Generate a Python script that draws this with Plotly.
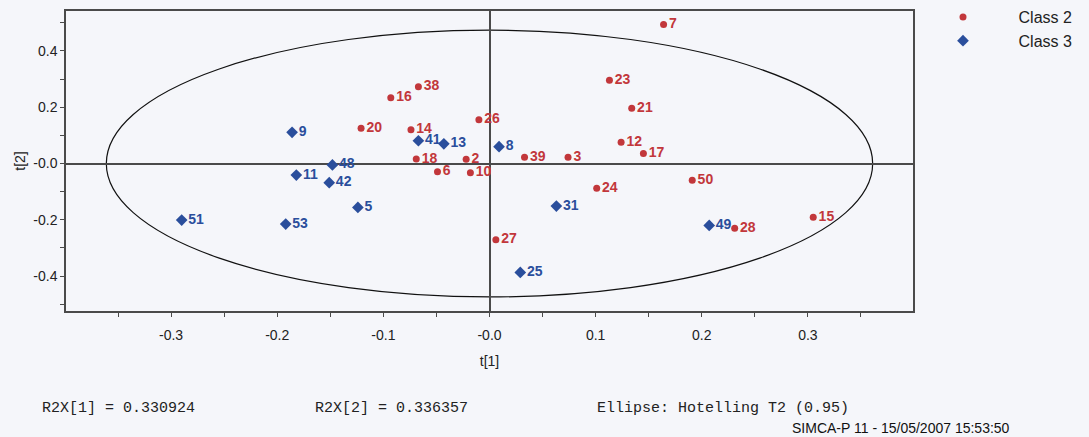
import plotly.graph_objects as go

# ---- data ----
class2_ids = ["7", "23", "38", "16", "21", "26", "20", "14", "12", "17", "18", "2",
              "39", "3", "6", "10", "24", "27", "50", "28", "15"]
class2_t1 = [0.164, 0.113, -0.067, -0.093, 0.134, -0.010, -0.121, -0.074, 0.124, 0.145,
             -0.069, -0.022, 0.033, 0.074, -0.049, -0.018, 0.101, 0.006, 0.191, 0.231, 0.305]
class2_t2 = [0.494, 0.296, 0.273, 0.234, 0.196, 0.156, 0.125, 0.120, 0.076, 0.036,
             0.016, 0.015, 0.022, 0.022, -0.029, -0.033, -0.088, -0.271, -0.059, -0.230, -0.191]

class3_ids = ["9", "48", "11", "42", "51", "53", "5", "41", "13", "8", "31", "25", "49"]
class3_t1 = [-0.186, -0.148, -0.182, -0.151, -0.290, -0.192, -0.124, -0.067, -0.043,
             0.009, 0.063, 0.029, 0.207]
class3_t2 = [0.111, -0.005, -0.041, -0.068, -0.201, -0.215, -0.156, 0.081, 0.070,
             0.060, -0.151, -0.387, -0.220]

# Hotelling T2 (0.95) ellipse semi-axes
ellipse_t1 = 0.361
ellipse_t2 = 0.474

x_tick_vals = [-0.3, -0.2, -0.1, 0.0, 0.1, 0.2, 0.3]
x_tick_text = ["-0.3", "-0.2", "-0.1", "-0.0", "0.1", "0.2", "0.3"]
y_tick_vals = [0.4, 0.2, 0.0, -0.2, -0.4]
y_tick_text = ["0.4", "0.2", "-0.0", "-0.2", "-0.4"]

footer_texts = ["R2X[1] = 0.330924", "R2X[2] = 0.336357", "Ellipse: Hotelling T2 (0.95)"]
footer_stamp = "SIMCA-P 11 - 15/05/2007 15:53:50"

RED = "#c2373b"
BLUE = "#2a4e9c"
BG = "#f5f6fa"
NB = "\u00a0"

fig = go.Figure()
fig.add_trace(go.Scatter(
    x=class2_t1, y=class2_t2, mode="markers+text", text=class2_ids,
    textposition="middle right",
    textfont=dict(family="Arial, Liberation Sans", size=14, color=RED, weight="bold"),
    marker=dict(symbol="circle", size=7, color=RED),
    name=NB * 8 + "Class 2",
))
fig.add_trace(go.Scatter(
    x=class3_t1, y=class3_t2, mode="markers+text", text=class3_ids,
    textposition="middle right",
    textfont=dict(family="Arial, Liberation Sans", size=14, color=BLUE, weight="bold"),
    marker=dict(symbol="diamond", size=9, color=BLUE),
    name=NB * 8 + "Class 3",
))

fig.add_shape(type="circle", xref="x", yref="y",
              x0=-ellipse_t1, x1=ellipse_t1, y0=-ellipse_t2, y1=ellipse_t2,
              line=dict(color="#111111", width=1.2), layer="below")

axis_common = dict(
    showgrid=False, zeroline=True, zerolinecolor="#4a4a4a", zerolinewidth=1.5,
    showline=True, mirror=True, linecolor="#4a4a4a", linewidth=1.5,
    ticks="outside", ticklen=4, tickcolor="#4a4a4a", tickwidth=1,
    tickfont=dict(family="Arial, Liberation Sans", size=14, color="#222222"),
    automargin=False,
)

fig.update_xaxes(
    range=[-0.399, 0.399], tickmode="array", tickvals=x_tick_vals, ticktext=x_tick_text,
    minor=dict(ticks="outside", ticklen=4, tickcolor="#4a4a4a", dtick=0.05, tick0=0, showgrid=False),
    ticklabelstandoff=6,
    title=dict(text="t[1]", font=dict(family="Arial, Liberation Sans", size=14, color="#222222"), standoff=15),
    **axis_common,
)
fig.update_yaxes(
    range=[-0.524, 0.542], tickmode="array", tickvals=y_tick_vals, ticktext=y_tick_text,
    minor=dict(ticks="outside", ticklen=4, tickcolor="#4a4a4a", dtick=0.1, tick0=0, showgrid=False),
    title=dict(text="t[2]", font=dict(family="Arial, Liberation Sans", size=14, color="#222222"), standoff=4),
    **axis_common,
)

W, H = 1089, 437
L, R, T, B = 66, 176, 11, 126
pw, ph = W - L - R, H - T - B

def px_x(p):
    return (p - L) / pw

def px_y(p):
    return (H - B - p) / ph

footer_x = [40, 313, 595]
for txt, xp in zip(footer_texts, footer_x):
    fig.add_annotation(text=txt, xref="paper", yref="paper", x=px_x(xp), y=px_y(408),
                       xanchor="left", yanchor="middle", showarrow=False,
                       font=dict(family="Liberation Mono, Courier New, monospace", size=15, color="#222222"))
fig.add_annotation(text=footer_stamp, xref="paper", yref="paper", x=px_x(790), y=px_y(428),
                   xanchor="left", yanchor="middle", showarrow=False,
                   font=dict(family="Arial, Liberation Sans", size=14, color="#111111"))

fig.update_layout(
    width=W, height=H,
    margin=dict(l=L, r=R, t=T, b=B, autoexpand=False),
    paper_bgcolor=BG, plot_bgcolor=BG,
    showlegend=True,
    legend=dict(x=px_x(943), y=px_y(0), xanchor="left", yanchor="top",
                bgcolor="rgba(0,0,0,0)", borderwidth=0, tracegroupgap=0,
                font=dict(family="Arial, Liberation Sans", size=16, color="#222222"),
                itemsizing="trace"),
)

fig.write_html("out.html")
